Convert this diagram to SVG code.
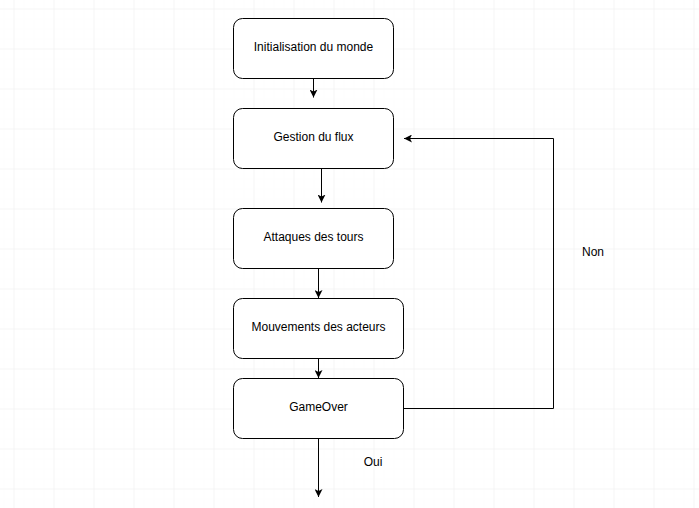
<svg xmlns="http://www.w3.org/2000/svg" width="699" height="508" viewBox="0 0 699 508">
<defs>
<pattern id="minor" x="3.5" y="8.5" width="10" height="10" patternUnits="userSpaceOnUse">
<path d="M0,0 H10 M0,0 V10" fill="none" stroke="#fbfbfb" stroke-width="1"/>
</pattern>
<pattern id="major" x="13.5" y="8.5" width="40" height="40" patternUnits="userSpaceOnUse">
<path d="M0,0 H40 M0,0 V40" fill="none" stroke="#eeeeee" stroke-width="1"/>
</pattern>
<marker id="arr" viewBox="0 0 8 8" refX="8" refY="4" markerWidth="8" markerHeight="8" markerUnits="userSpaceOnUse" orient="auto">
<path d="M0,0 L8,4 L0,8 L2,4 Z" fill="#000"/>
</marker>
</defs>
<style>
.box{fill:#fff;stroke:#000;stroke-width:1}
.lbl{font-family:"Liberation Sans",Arial,sans-serif;font-size:12px;fill:#000;text-anchor:middle;dominant-baseline:central}
.edge{fill:none;stroke:#000;stroke-width:1;marker-end:url(#arr)}
</style>
<rect width="699" height="508" fill="#fff"/>
<rect width="699" height="508" fill="url(#minor)"/>
<rect width="699" height="508" fill="url(#major)"/>
<g id="connectors">
<path class="edge" d="M313.5,78.5 V97.5"/>
<path class="edge" d="M321.5,168.5 V202.5"/>
<path class="edge" d="M318.5,268.5 V298"/>
<path class="edge" d="M318.5,358.5 V378"/>
<path class="edge" d="M318.5,438.5 V497"/>
<path class="edge" d="M403.5,408.5 H553.5 V138.5 H404"/>
</g>
<g id="n1"><rect class="box" x="233.5" y="18.5" width="160" height="60" rx="9"/><text class="lbl" x="313.5" y="47">Initialisation du monde</text></g>
<g id="n2"><rect class="box" x="233.5" y="108.5" width="160" height="60" rx="9"/><text class="lbl" x="313.5" y="137">Gestion du flux</text></g>
<g id="n3"><rect class="box" x="233.5" y="208.5" width="160" height="60" rx="9"/><text class="lbl" x="313.5" y="237">Attaques des tours</text></g>
<g id="n4"><rect class="box" x="233.5" y="298.5" width="170" height="60" rx="9"/><text class="lbl" x="318.5" y="327">Mouvements des acteurs</text></g>
<g id="n5"><rect class="box" x="233.5" y="378.5" width="170" height="60" rx="9"/><text class="lbl" x="318.5" y="407">GameOver</text></g>
<g id="labels">
<text class="lbl" x="593" y="251.5">Non</text>
<text class="lbl" x="373" y="461.5">Oui</text>
</g>
</svg>
